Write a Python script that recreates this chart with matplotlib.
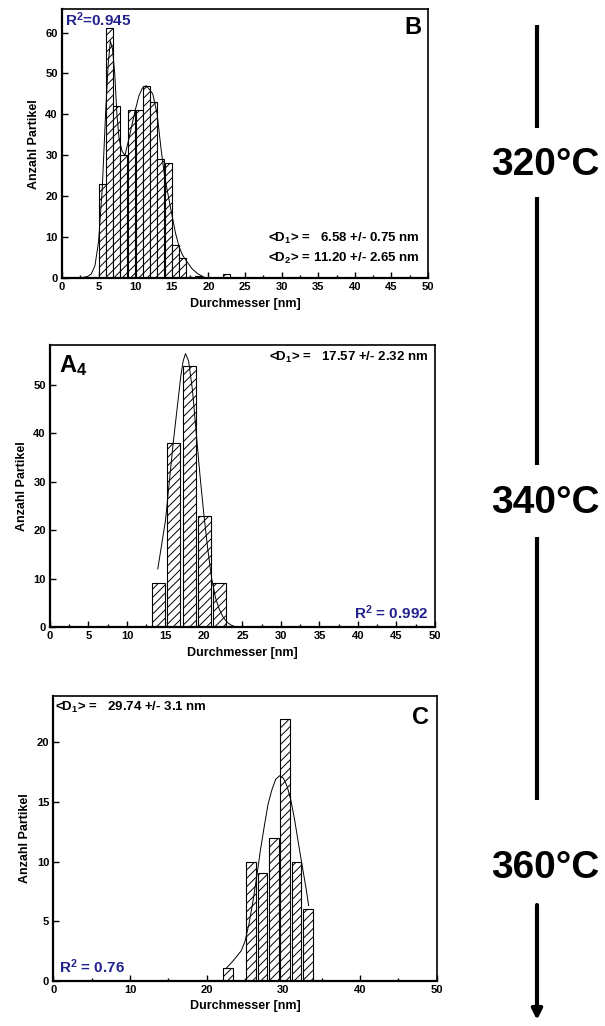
import matplotlib
matplotlib.use("Agg")
import matplotlib.pyplot as plt
from matplotlib.ticker import MultipleLocator

plt.rcParams['font.family'] = ['Liberation Sans', 'DejaVu Sans']
plt.rcParams['font.weight'] = 'bold'
plt.rcParams['mathtext.fontset'] = 'custom'
plt.rcParams['mathtext.rm'] = 'Liberation Sans:bold'
plt.rcParams['mathtext.default'] = 'rm'
plt.rcParams['hatch.linewidth'] = 0.7
plt.rcParams['hatch.color'] = 'black'

# --- panel B (320 °C): histogram + bimodal fit ---
b_centers = [5.55, 6.45, 7.4, 8.45, 9.5, 10.55, 11.5, 12.5, 13.5, 14.5, 15.5, 16.5, 18.6, 22.5]
b_counts = [23, 61, 42, 30, 41, 41, 47, 43, 29, 28, 8, 5, 0.5, 1]
b_fit_x = [2.5, 3.5, 4.0, 4.5, 5.0, 5.5, 6.0, 6.3, 6.6, 6.9, 7.2, 7.5, 7.8, 8.2, 8.6,
           9.0, 9.5, 10.0, 10.5, 11.0, 11.5, 12.0, 12.4, 13.0, 13.5, 14.0, 14.8, 15.5,
           16.0, 16.5, 17.1, 17.8, 18.5, 19.4, 20.0]
b_fit_y = [0, 0.4, 1, 3, 9, 22, 42, 52, 58, 56, 50, 40, 34, 31, 30,
           33, 37, 41, 44.5, 46.5, 47, 46, 45, 40, 32, 25, 17.4, 11,
           7.6, 5.5, 3.9, 2.2, 1.1, 0.2, 0]

# --- panel A4 (340 °C) ---
a_centers = [14.05, 16.0, 18.1, 20.05, 22.0]
a_counts = [9, 38, 54, 23, 9]
a_fit_x = [14.0, 14.5, 15.0, 15.5, 16.0, 16.5, 17.0, 17.3, 17.6, 18.0, 18.5, 19.0,
           19.5, 20.0, 20.5, 21.0, 21.5, 22.0, 22.5, 23.0, 23.5, 24.0, 24.3]
a_fit_y = [12, 17, 22, 30, 38, 45, 52, 55, 56.5, 55, 49, 40,
           31, 23, 16, 10, 6, 3.6, 2, 1, 0.4, 0.1, 0]

# --- panel C (360 °C) ---
c_centers = [22.8, 25.75, 27.3, 28.75, 30.25, 31.7, 33.25]
c_counts = [1.1, 10, 9, 12, 22, 10, 6]
c_fit_x = [22.5, 23.5, 24.5, 25.0, 25.5, 26.0, 26.5, 27.0, 27.5, 28.0, 28.5, 29.0,
           29.5, 30.0, 30.5, 31.0, 31.5, 32.0, 32.5, 33.0, 33.3]
c_fit_y = [1.0, 1.7, 2.5, 3.3, 4.7, 6.5, 8.6, 10.9, 12.9, 14.8, 16.0, 16.9,
           17.2, 17.0, 16.3, 15.1, 13.4, 11.4, 9.5, 7.6, 6.3]

temps = ['320°C', '340°C', '360°C']

R2_COLOR = '#22228c'

fig = plt.figure(figsize=(6.05, 10.26), dpi=100)


def make_panel(rect, centers, counts, width, fit_x, fit_y, ymax, xmaj, xmin, ymaj):
    ax = fig.add_axes(rect)
    bars = ax.bar(centers, counts, width=width, color='white', edgecolor='black',
                  linewidth=0.8, zorder=2)
    for b in bars:
        b.set_hatch('////')
    ax.plot(fit_x, fit_y, color='black', linewidth=0.7, zorder=3)
    ax.set_xlim(0, 50)
    ax.set_ylim(0, ymax)
    ax.xaxis.set_major_locator(MultipleLocator(xmaj))
    ax.xaxis.set_minor_locator(MultipleLocator(xmin))
    ax.yaxis.set_major_locator(MultipleLocator(ymaj))
    ax.tick_params(direction='in', length=4, width=1, labelsize=8, pad=3)
    ax.tick_params(axis='x', which='minor', direction='in', length=2.5, width=1)
    for lab in ax.get_xticklabels() + ax.get_yticklabels():
        lab.set_fontweight('bold')
    for side in ['top', 'right']:
        ax.spines[side].set_linewidth(1.2)
    for side in ['bottom', 'left']:
        ax.spines[side].set_linewidth(1.6)
    ax.set_xlabel('Durchmesser [nm]', fontsize=9, fontweight='bold', labelpad=4)
    ax.set_ylabel('Anzahl Partikel', fontsize=9, fontweight='bold', labelpad=4)
    return ax


# panel B
ax_b = make_panel([0.1025, 0.729, 0.605, 0.262], b_centers, b_counts, 0.95,
                  b_fit_x, b_fit_y, 65.7, 5, 2.5, 10)
ax_b.text(0.008, 0.995, 'R$^2$=0.945', transform=ax_b.transAxes, ha='left', va='top',
          fontsize=11, color=R2_COLOR, fontweight='bold')
ax_b.text(0.981, 0.975, 'B', transform=ax_b.transAxes, ha='right', va='top',
          fontsize=17, fontweight='bold')
ax_b.text(0.563, 0.149, '<D$_1$> =   6.58 +/- 0.75 nm', transform=ax_b.transAxes,
          ha='left', va='center', fontsize=9.5, fontweight='bold')
ax_b.text(0.563, 0.074, '<D$_2$> = 11.20 +/- 2.65 nm', transform=ax_b.transAxes,
          ha='left', va='center', fontsize=9.5, fontweight='bold')

# panel A4
ax_a = make_panel([0.0826, 0.3889, 0.6364, 0.2749], a_centers, a_counts, 1.65,
                  a_fit_x, a_fit_y, 58.3, 5, 2.5, 10)
ax_a.text(0.023, 0.97, 'A$_4$', transform=ax_a.transAxes, ha='left', va='top',
          fontsize=17, fontweight='bold')
ax_a.text(0.982, 0.957, '<D$_1$> =   17.57 +/- 2.32 nm', transform=ax_a.transAxes,
          ha='right', va='center', fontsize=9.5, fontweight='bold')
ax_a.text(0.982, 0.05, 'R$^2$ = 0.992', transform=ax_a.transAxes, ha='right', va='center',
          fontsize=11, color=R2_COLOR, fontweight='bold')

# panel C
ax_c = make_panel([0.0881, 0.0442, 0.6337, 0.2775], c_centers, c_counts, 1.25,
                  c_fit_x, c_fit_y, 23.9, 10, 5, 5)
ax_c.text(0.005, 0.961, '<D$_1$> =   29.74 +/- 3.1 nm', transform=ax_c.transAxes,
          ha='left', va='center', fontsize=9.5, fontweight='bold')
ax_c.text(0.98, 0.965, 'C', transform=ax_c.transAxes, ha='right', va='top',
          fontsize=17, fontweight='bold')
ax_c.text(0.015, 0.048, 'R$^2$ = 0.76', transform=ax_c.transAxes, ha='left', va='center',
          fontsize=11, color=R2_COLOR, fontweight='bold')

# temperature arrow on the right, in pixel-like overlay coordinates
ov = fig.add_axes([0, 0, 1, 1], facecolor='none')
ov.set_xlim(0, 605)
ov.set_ylim(1026, 0)
ov.axis('off')
arrow_x = 537
for y0, y1 in [(25, 128), (197, 465), (537, 800)]:
    ov.plot([arrow_x, arrow_x], [y0, y1], color='black', linewidth=3, solid_capstyle='butt')
ov.annotate('', xy=(arrow_x, 1020), xytext=(arrow_x, 905),
            arrowprops=dict(arrowstyle='-|>', color='black', linewidth=3,
                            mutation_scale=15, shrinkA=0, shrinkB=0))
for label, ty in zip(temps, [165, 503, 868]):
    ov.text(545, ty, label, ha='center', va='center', fontsize=28, fontweight='bold')

fig.savefig('out.png', dpi=100)
